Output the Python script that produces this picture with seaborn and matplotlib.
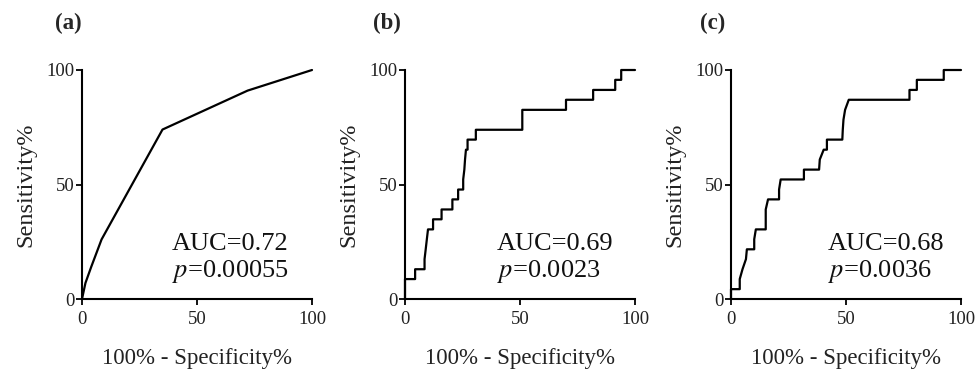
import matplotlib
matplotlib.use("Agg")
import matplotlib.pyplot as plt
import seaborn as sns
import pandas as pd

# ROC curve vertices (100% - Specificity%, Sensitivity%)
fpr_a = [0, 1.5, 4, 8.5, 35, 72, 100]
tpr_a = [0, 7, 14, 26, 74, 91, 100]

fpr_b = [0, 0, 4.4, 4.4, 8.5, 8.5, 9.0, 9.5, 10.0, 12.2, 12.2, 15.9, 15.9, 20.6, 20.6,
         23.1, 23.1, 25.3, 25.3, 25.8, 26.1, 26.5, 27.2, 27.2, 30.8, 30.8, 51.0, 51.0,
         70.0, 70.0, 81.8, 81.8, 91.4, 91.4, 94.0, 94.0, 100]
tpr_b = [0, 8.7, 8.7, 13.0, 13.0, 17.4, 21.7, 26.1, 30.4, 30.4, 34.8, 34.8, 39.1, 39.1, 43.5,
         43.5, 47.8, 47.8, 52.2, 56.5, 60.9, 65.2, 65.2, 69.6, 69.6, 73.9, 73.9, 82.6,
         82.6, 87.0, 87.0, 91.3, 91.3, 95.7, 95.7, 100, 100]

fpr_c = [0, 0, 3.8, 3.8, 5.0, 6.5, 6.9, 10.1, 10.1, 10.8, 15.1, 15.1, 16.1, 20.9, 20.9,
         21.6, 31.7, 31.7, 38.3, 38.6, 40.3, 41.7, 41.7, 48.4, 48.6, 48.9, 49.6, 51.2,
         77.6, 77.6, 80.8, 80.8, 92.5, 92.5, 100]
tpr_c = [0, 4.3, 4.3, 8.7, 13.0, 17.4, 21.7, 21.7, 26.1, 30.4, 30.4, 39.1, 43.5, 43.5, 47.8,
         52.2, 52.2, 56.5, 56.5, 60.9, 65.2, 65.2, 69.6, 69.6, 73.9, 78.3, 82.6, 87.0,
         87.0, 91.3, 91.3, 95.7, 95.7, 100, 100]

panel_labels = ["(a)", "(b)", "(c)"]
auc_texts = ["AUC=0.72", "AUC=0.69", "AUC=0.68"]
p_texts = ["0.00055", "0.0023", "0.0036"]
ticks = [0, 50, 100]

sns.set_theme(style="ticks")
plt.rcParams["font.family"] = ["Liberation Serif", "DejaVu Serif"]
plt.rcParams["mathtext.fontset"] = "stix"
plt.rcParams["axes.linewidth"] = 1.5
plt.rcParams["xtick.major.width"] = 1.3
plt.rcParams["ytick.major.width"] = 1.3

fig = plt.figure(figsize=(9.76, 3.73), dpi=100)

lefts = [82, 405, 731]
label_x = [55, 373, 700]
text_x = [39, 40, 42]
curves = [(fpr_a, tpr_a), (fpr_b, tpr_b), (fpr_c, tpr_c)]

for i, (fx, ty) in enumerate(curves):
    ax = fig.add_axes([lefts[i] / 976, 74 / 373, 230 / 976, 229 / 373])
    df = pd.DataFrame({"fpr": fx, "tpr": ty})
    sns.lineplot(data=df, x="fpr", y="tpr", sort=False, estimator=None,
                 color="black", linewidth=1.6, ax=ax, clip_on=False)
    ax.set_xlim(0, 100)
    ax.set_ylim(0, 100)
    ax.set_xticks(ticks)
    ax.set_yticks(ticks)
    ax.tick_params(axis="both", labelsize=13.5, length=4, color="black", labelcolor="#222222")
    ax.tick_params(axis="x", pad=5)
    ax.tick_params(axis="y", pad=1.5)
    sns.despine(ax=ax)
    for s in ["left", "bottom"]:
        ax.spines[s].set_color("black")
    ax.set_xlabel("100% - Specificity%", fontsize=16.5, color="#222222")
    ax.set_ylabel("Sensitivity%", fontsize=17.5, color="#222222")
    ax.xaxis.set_label_coords(0.5, -0.215)
    ax.yaxis.set_label_coords(-0.2, 0.5)
    ax.text(text_x[i], 21.5, auc_texts[i], fontsize=19, color="#111111", va="baseline")
    ax.text(text_x[i], 9.5, r"$p$=" + p_texts[i], fontsize=19, color="#111111", va="baseline")
    fig.text(label_x[i] / 976, 1 - 23 / 373, panel_labels[i], fontsize=16.5,
             fontweight="bold", va="center", ha="left")

fig.savefig("out.png", dpi=100)
